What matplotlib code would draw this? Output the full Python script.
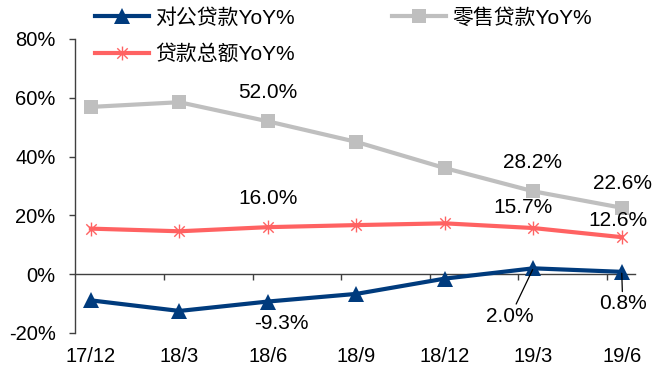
import matplotlib
matplotlib.use("Agg")
import matplotlib.pyplot as plt
from matplotlib.path import Path
from matplotlib.font_manager import FontProperties

plt.rcParams['font.family'] = ['Liberation Sans', 'Noto Sans CJK SC', 'DejaVu Sans']

# Quarter-end periods
periods = ["17/12", "18/3", "18/6", "18/9", "18/12", "19/3", "19/6"]

# Year-over-year growth, %
corporate = [-8.9, -12.5, -9.3, -6.7, -1.5, 2.0, 0.8]
retail = [56.9, 58.5, 52.0, 45.0, 36.1, 28.2, 22.6]
total = [15.5, 14.6, 16.0, 16.7, 17.3, 15.7, 12.6]

series_names = ["对公贷款YoY%", "零售贷款YoY%", "贷款总额YoY%"]

y_ticks = [-20, 0, 20, 40, 60, 80]
y_tick_labels = ["-20%", "0%", "20%", "40%", "60%", "80%"]

BLUE = "#003B7D"
GREY = "#BFBFBF"
RED = "#FF6262"

# six-armed asterisk marker (vertical bar plus a cross)
star = Path(
    [(0, -1), (0, 1), (-0.75, -0.75), (0.75, 0.75), (-0.75, 0.75), (0.75, -0.75)],
    [Path.MOVETO, Path.LINETO, Path.MOVETO, Path.LINETO, Path.MOVETO, Path.LINETO],
)

fig = plt.figure(figsize=(6.54, 3.71), dpi=100)
ax = fig.add_axes([75 / 654, 1 - 333 / 371, (635 - 75) / 654, (333 - 39) / 371])

x = list(range(len(periods)))

l_corp, = ax.plot(x, corporate, color=BLUE, lw=3, marker="^", ms=11.5,
                  mew=0, zorder=4, label=series_names[0])
l_ret, = ax.plot(x, retail, color=GREY, lw=3, marker="s", ms=9.5,
                 mew=0, zorder=3, label=series_names[1])
l_tot, = ax.plot(x, total, color=RED, lw=3, marker=star, ms=10,
                 mew=1.0, mec=RED, zorder=3, label=series_names[2])

ax.set_xlim(-0.18, len(periods) - 1 + 0.15)
ax.set_ylim(-20, 80)

# y axis
ax.set_yticks(y_ticks)
ax.set_yticklabels(y_tick_labels)
ax.tick_params(axis="y", direction="out", length=4, width=1, pad=10,
               labelsize=14.5, color="#404040")
ax.spines["left"].set_color("#404040")
ax.spines["left"].set_linewidth(1)
for s in ("top", "right", "bottom"):
    ax.spines[s].set_visible(False)

# category labels along the bottom
ax.set_xticks(x)
ax.set_xticklabels(periods)
ax.tick_params(axis="x", length=0, pad=10, labelsize=14.5)

# horizontal axis line at zero with tick marks between categories
zero_frac = (0 - (-20)) / (80 - (-20))
sec = ax.secondary_xaxis(zero_frac)
sec.set_xticks([i - 0.17 for i in x[1:]])
sec.set_xticklabels([])
sec.tick_params(axis="x", direction="out", length=4, width=1, color="#404040")
sec.spines["bottom"].set_color("#404040")
sec.spines["bottom"].set_linewidth(1)
for s in ("top", "left", "right"):
    if s in sec.spines:
        sec.spines[s].set_visible(False)

# data labels (offsets in points)
lab_font = dict(fontsize=15, ha="center", va="center", color="black", zorder=6)
px = 0.72


def label(xi, vals, dx, dy, leader=False):
    v = vals[xi]
    kw = {}
    if leader:
        kw["arrowprops"] = dict(arrowstyle="-", color="black", lw=0.9,
                                shrinkA=0, shrinkB=1)
    ax.annotate(f"{v:.1f}%", xy=(xi, v), xytext=(dx * px, dy * px),
                textcoords="offset points", **lab_font, **kw)


label(2, retail, 0, 29)
label(5, retail, -1, 29)
label(6, retail, 1, 24)
label(2, total, 0, 29)
label(5, total, -10, 21)
label(6, total, -4, 16.5)
label(2, corporate, 14, -22)
label(5, corporate, -23, -48, leader=True)
label(6, corporate, 1, -32, leader=True)

# legend
leg_font = FontProperties(family=['Liberation Sans', 'Noto Sans CJK SC'], size=15)
fig.legend(handles=[l_corp, l_tot, l_ret], ncol=2, frameon=False,
           loc="upper left", bbox_to_anchor=(95 / 654, 1 - 8 / 371),
           borderpad=0, borderaxespad=0, handlelength=2.6, handletextpad=0.3,
           columnspacing=4.65, labelspacing=0.8, prop=leg_font)

fig.savefig("out.png", dpi=100)
